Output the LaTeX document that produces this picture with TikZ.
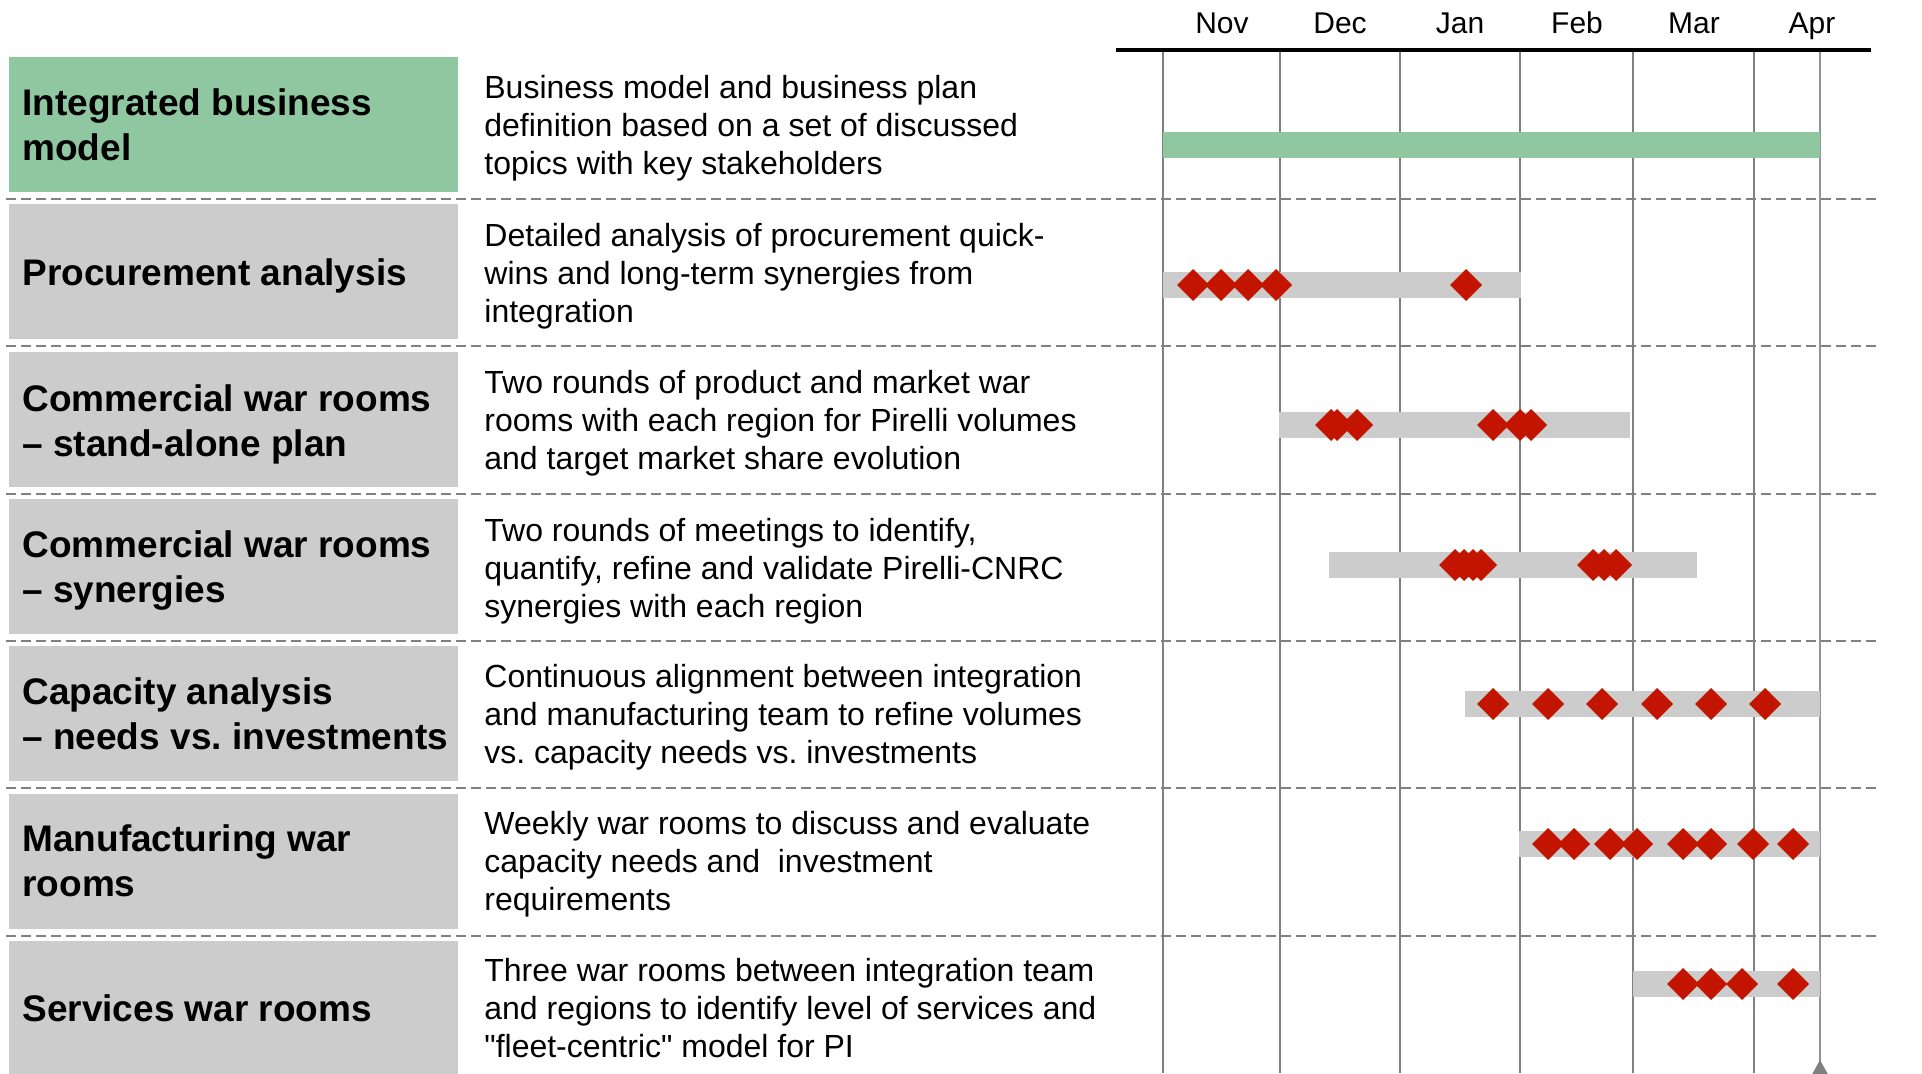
\documentclass[tikz,border=0pt]{standalone}
\usepackage{fontspec}
\setmainfont{Liberation Sans}
\frenchspacing
\definecolor{topicgreen}{RGB}{143,199,160}
\definecolor{topicgray}{RGB}{204,204,204}
\definecolor{gridgray}{RGB}{128,128,128}
\definecolor{msred}{RGB}{195,20,0}
% straight double quote, set as a glyph so that no ligature mapping curls it
\newcommand\sdq{\XeTeXglyph\XeTeXglyphindex "quotedbl"\relax}
% one milestone marker per entry of #2, all on the bar centred at height #1
\newcommand\mstones[2]{%
  \foreach \dx in {#2} {%
    \fill[mstone] (\dx-16,#1) -- (\dx,#1-16) -- (\dx+16,#1) -- (\dx,#1+16) -- cycle;}}
\begin{document}
\begin{tikzpicture}[x=0.5pt,y=-0.5pt,
  gridline/.style={draw=gridgray,line width=0.8pt},
  rowsep/.style={draw=gridgray,line width=1pt,dash pattern=on 5pt off 2.5pt},
  bar/.style={fill=topicgray},
  mstone/.style={fill=msred},
  labbox/.style={fill=topicgray,minimum width=224.5pt,minimum height=67.5pt,inner sep=0pt},
  labtext/.style={anchor=west,align=left,inner sep=0pt,font=\fontsize{18.5}{22.5}\selectfont\bfseries\frenchspacing},
  desc/.style={anchor=west,align=left,inner sep=0pt,font=\fontsize{16}{19}\selectfont\frenchspacing},
  month/.style={anchor=base,inner sep=0pt,font=\fontsize{15}{18}\selectfont}]
\useasboundingbox (0,0) rectangle (1922,1073);
\clip (0,0) rectangle (1922,1073);

% month grid
\foreach \gx in {1163,1280,1400,1520,1633,1754}
  \draw[gridline] (\gx,50) -- (\gx,1073);
\draw[gridline,draw=gridgray!85] (1820,50) -- (1820,1073);
\fill[gridgray] (1820,1060) -- (1810,1078) -- (1830,1078) -- cycle;

% row separators
\foreach \k in {0,...,5}
  \draw[rowsep] (6,199+147.3*\k) -- (1876,199+147.3*\k);

% timeline axis and months
\draw[line width=1.65pt] (1116,50) -- (1871,50);
\node[month] (mNov) at (1222,33) {Nov};
\node[month] (mDec) at (1340,33) {Dec};
\node[month] (mJan) at (1460,33) {Jan};
\node[month] (mFeb) at (1577,33) {Feb};
\node[month] (mMar) at (1694,33) {Mar};
\node[month] (mApr) at (1812,33) {Apr};

% activity bars
\fill[topicgreen] (1163,132) rectangle (1820,158);
\fill[bar] (1163,272) rectangle (1521,298);
\fill[bar] (1279,412) rectangle (1630,438);
\fill[bar] (1329,552) rectangle (1697,578);
\fill[bar] (1465,691) rectangle (1820,717);
\fill[bar] (1519,831) rectangle (1820,857);
\fill[bar] (1633,971) rectangle (1820,997);

% milestones
\mstones{285}{1193,1221,1248,1276,1466}
\mstones{425}{1331,1337,1357,1493,1520,1531}
\mstones{565}{1455,1464,1473,1481,1593,1604,1616}
\mstones{704}{1493,1548,1602,1657,1711,1765}
\mstones{844}{1548,1574,1610,1637,1683,1711,1753,1793}
\mstones{984}{1683,1711,1742,1793}

% topic boxes
\node[labbox,fill=topicgreen] (box1) at (233.5,124.5) {};
\node[labbox] (box2) at (233.5,271.8) {};
\node[labbox] (box3) at (233.5,419.1) {};
\node[labbox] (box4) at (233.5,566.4) {};
\node[labbox] (box5) at (233.5,713.7) {};
\node[labbox] (box6) at (233.5,861.0) {};
\node[labbox] (box7) at (233.5,1008.3) {};

\node[labtext] (lab1) at (22,124.5) {Integrated business\\model};
\node[labtext] (lab2) at (22,275.8) {Procurement analysis};
\node[labtext] (lab3) at (22,424.1) {Commercial war rooms\\– stand-alone plan};
\node[labtext] (lab4) at (22,570.4) {Commercial war rooms\\– synergies};
\node[labtext] (lab5) at (22,713.7) {Capacity analysis\\– needs vs. investments};
\node[labtext] (lab6) at (22,861.0) {Manufacturing war\\rooms};
\node[labtext] (lab7) at (22,1008.3) {Services war rooms};

% descriptions
\node[desc] (desc1) at (484,128.5) {Business model and business plan\\definition based on a set of discussed\\topics with key stakeholders};
\node[desc] (desc2) at (484,275.8) {Detailed analysis of procurement quick-\\wins and long-term synergies from\\integration};
\node[desc] (desc3) at (484,423.1) {Two rounds of product and market war\\rooms with each region for Pirelli volumes\\and target market share evolution};
\node[desc] (desc4) at (484,571.4) {Two rounds of meetings to identify,\\quantify, refine and validate Pirelli-CNRC\\synergies with each region};
\node[desc] (desc5) at (484,717.7) {Continuous alignment between integration\\and manufacturing team to refine volumes\\vs. capacity needs vs. investments};
\node[desc] (desc6) at (484,864.5) {Weekly war rooms to discuss and evaluate\\capacity needs and~ investment\\requirements};
\node[desc] (desc7) at (484,1008.3) {Three war rooms between integration team\\and regions to identify level of services and\\\sdq fleet-centric\sdq{} model for PI};
\end{tikzpicture}
\end{document}
